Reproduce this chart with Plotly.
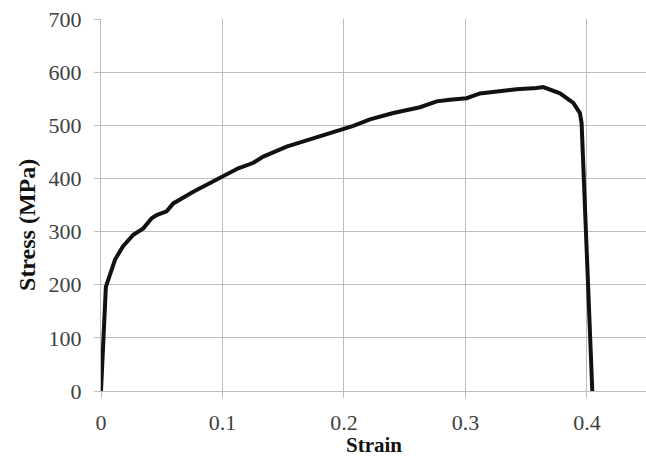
import plotly.graph_objects as go

strain = [0.0, 0.004, 0.0115, 0.018, 0.0266, 0.0348, 0.0417, 0.0458, 0.054, 0.0595,
          0.076, 0.087, 0.0985, 0.113, 0.125, 0.1336, 0.1528, 0.1748, 0.191, 0.1995,
          0.2077, 0.2214, 0.2406, 0.2626, 0.2763, 0.2872, 0.3009, 0.312, 0.328, 0.342,
          0.3586, 0.364, 0.3778, 0.3888, 0.3942, 0.3956, 0.4044]
stress = [0, 196, 247, 272, 294, 306, 325, 331, 338, 353,
          375, 388, 401, 419, 429, 441, 460, 476, 488, 494,
          499, 511, 523, 534, 545, 548, 551, 560, 565, 568,
          570, 572, 560, 542, 523, 504, 0]

x_ticks = [0, 0.1, 0.2, 0.3, 0.4]
x_labels = ["0", "0.1", "0.2", "0.3", "0.4"]
y_ticks = [0, 100, 200, 300, 400, 500, 600, 700]

fig = go.Figure()
fig.add_trace(go.Scatter(x=strain, y=stress, mode="lines",
                         line=dict(color="#111111", width=4), showlegend=False))

grid = "#bdbdbd"
serif = "Liberation Serif, Times New Roman, serif"
tickfont = dict(family=serif, size=22, color="#404040")
fig.update_layout(
    width=646, height=459,
    margin=dict(l=101, r=0, t=19, b=68),
    paper_bgcolor="white", plot_bgcolor="white",
    xaxis=dict(range=[0, 0.4486], tickvals=x_ticks, ticktext=x_labels,
               showgrid=True, gridcolor=grid, gridwidth=1,
               showline=True, linecolor=grid, linewidth=1,
               ticks="outside", ticklen=6, tickcolor=grid,
               tickfont=tickfont, zeroline=False, ticklabelstandoff=6),
    yaxis=dict(range=[0, 700], tickvals=y_ticks,
               showgrid=True, gridcolor=grid, gridwidth=1,
               showline=True, linecolor=grid, linewidth=1,
               ticks="outside", ticklen=6, tickcolor=grid,
               tickfont=tickfont, zeroline=False, ticklabelstandoff=8),
    annotations=[
        dict(text="<b>Strain</b>", xref="paper", yref="paper", x=0.5, y=-0.145,
             xanchor="center", yanchor="middle", showarrow=False,
             font=dict(family=serif, size=21, color="#111111")),
        dict(text="<b>Stress (MPa)</b>", xref="paper", yref="paper", x=-0.136, y=0.446,
             xanchor="center", yanchor="middle", showarrow=False, textangle=-90,
             font=dict(family=serif, size=24, color="#111111")),
    ],
)
fig.write_html("out.html")
